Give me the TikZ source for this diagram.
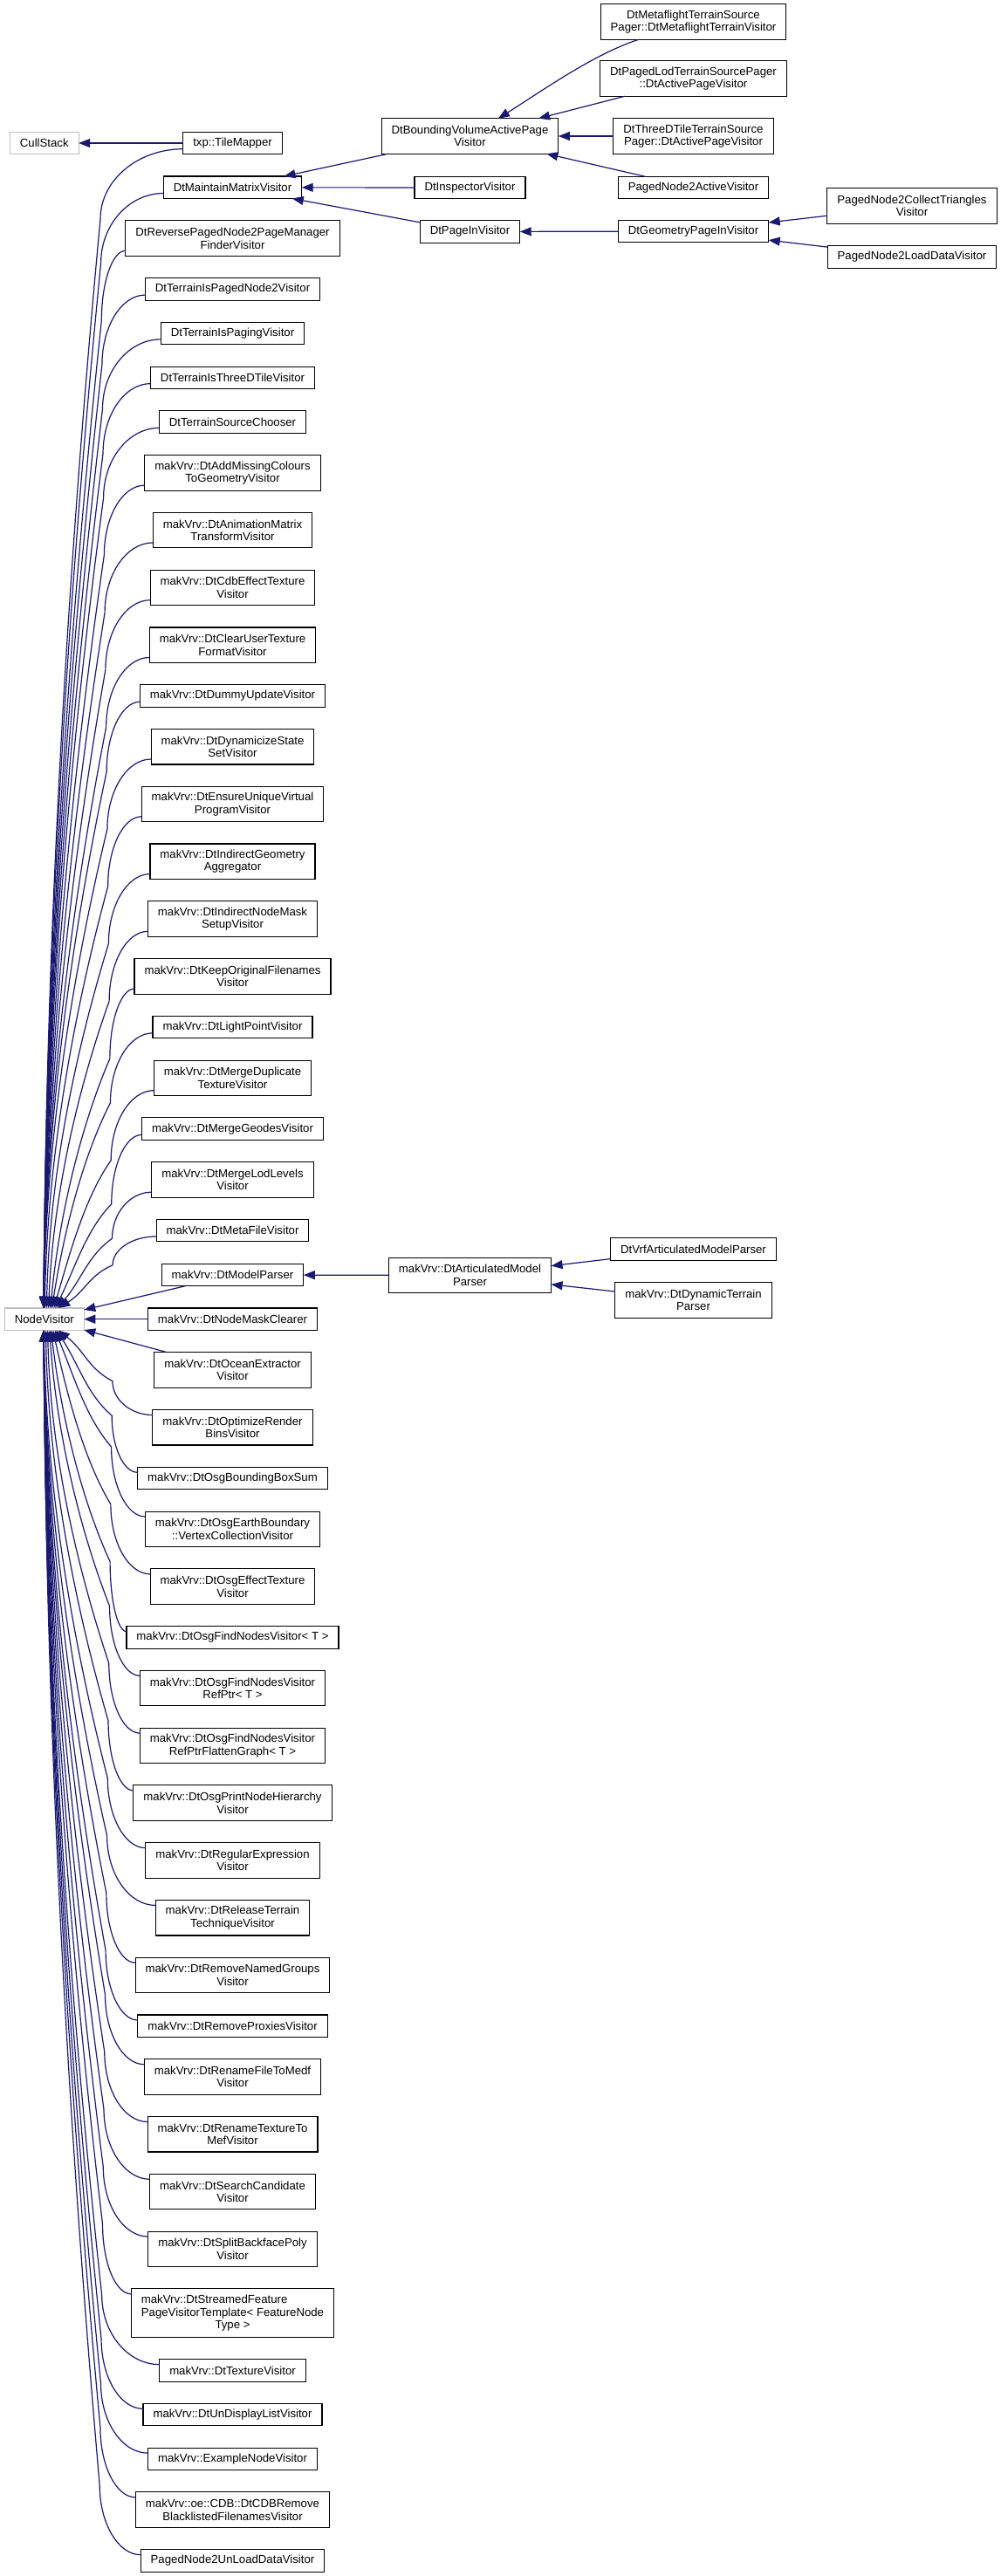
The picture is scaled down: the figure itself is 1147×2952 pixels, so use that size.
\documentclass[tikz,border=0pt]{standalone}
\usepackage{fontspec}
\setmainfont{Liberation Sans}
\usetikzlibrary{positioning,calc,arrows.meta}
\definecolor{edgeblue}{HTML}{191970}
\definecolor{graybd}{HTML}{BFBFBF}
\newsavebox\linebox
\newcommand\nodefont{\fontsize{13.2}{14.5}\selectfont}
\newcommand\fanpath[3]{%
\draw[edge] let \p1=#1, \p2=(#3),
  \n1={#2*(\y1-\y2)},
  \n2={min(80pt,0.4*\n1)},
  \n3={115pt+15pt*(1-\n1/1330pt)},
  \n4={50pt+20pt*max(0,1-\n1/600pt)},
  \n5={\n4+(\n3-\n4)*max(0.05,0.6*(1-\n1/500pt))}
 in (\n4,\y2) .. controls (\n5,{\y2+#2*0.4*(\n1-\n2)}) and ({\n3-0.45*(\n3-\n4)},{\y1-#2*\n2-#2*0.25*(\n1-\n2)}) .. (\n3,{\y1-#2*\n2}) .. controls (\n3,{\y1-#2*0.45*\n2}) and ({\x1-0.55*(\x1-\n3)},\y1) .. (\x1,\y1);}
\newcommand\fanup[1]{\fanpath{($(#1.south west)+(0,6)$)}{1}{nv.north}}
\newcommand\fandown[1]{\fanpath{($(#1.north west)+(0,-6)$)}{(-1)}{nv.south}}
\begin{document}
\begin{tikzpicture}[x=1pt,y=1pt,
  box/.style={draw=black, line width=1.1pt, fill=white, inner xsep=11.5pt, inner ysep=0pt, outer sep=0pt, align=center, font=\nodefont, minimum height=25.5pt},
  box2/.style={box, minimum height=40.5pt},
  box3/.style={box, minimum height=55.5pt},
  gbox/.style={box, draw=graybd},
  edge/.style={draw=edgeblue, line width=1.2pt, arrows={Triangle[length=13pt,width=10pt]-}},
  node distance=25.27pt]
\useasboundingbox (0,0) rectangle (1147,-2952);
% left column
\node[box] (tm) at (266.5,-164) {txp::TileMapper};
\node[box, below=of tm] (mm) {DtMaintainMatrixVisitor};
\node[box2, below=of mm] (rev) {DtReversePagedNode2PageManager\\FinderVisitor};
\node[box, below=of rev] (tpn) {DtTerrainIsPagedNode2Visitor};
\node[box, below=of tpn] (tpg) {DtTerrainIsPagingVisitor};
\node[box, below=of tpg] (t3d) {DtTerrainIsThreeDTileVisitor};
\node[box, below=of t3d] (tsc) {DtTerrainSourceChooser};
\node[box2, below=of tsc] (amc) {makVrv::DtAddMissingColours\\ToGeometryVisitor};
\node[box2, below=of amc] (amt) {makVrv::DtAnimationMatrix\\TransformVisitor};
\node[box2, below=of amt] (cdb) {makVrv::DtCdbEffectTexture\\Visitor};
\node[box2, below=of cdb] (cut) {makVrv::DtClearUserTexture\\FormatVisitor};
\node[box, below=of cut] (duv) {makVrv::DtDummyUpdateVisitor};
\node[box2, below=of duv] (dss) {makVrv::DtDynamicizeState\\SetVisitor};
\node[box2, below=of dss] (euv) {makVrv::DtEnsureUniqueVirtual\\ProgramVisitor};
\node[box2, below=of euv] (iga) {makVrv::DtIndirectGeometry\\Aggregator};
\node[box2, below=of iga] (inm) {makVrv::DtIndirectNodeMask\\SetupVisitor};
\node[box2, below=of inm] (kof) {makVrv::DtKeepOriginalFilenames\\Visitor};
\node[box, below=of kof] (lpv) {makVrv::DtLightPointVisitor};
\node[box2, below=of lpv] (mdt) {makVrv::DtMergeDuplicate\\TextureVisitor};
\node[box, below=of mdt] (mgv) {makVrv::DtMergeGeodesVisitor};
\node[box2, below=of mgv] (mll) {makVrv::DtMergeLodLevels\\Visitor};
\node[box, below=of mll] (mfv) {makVrv::DtMetaFileVisitor};
\node[box, below=of mfv] (mp) {makVrv::DtModelParser};
\node[box, below=of mp] (nmc) {makVrv::DtNodeMaskClearer};
\node[box2, below=of nmc] (oev) {makVrv::DtOceanExtractor\\Visitor};
\node[box2, below=of oev] (orb) {makVrv::DtOptimizeRender\\BinsVisitor};
\node[box, below=of orb] (bbs) {makVrv::DtOsgBoundingBoxSum};
\node[box2, below=of bbs] (oeb) {makVrv::DtOsgEarthBoundary\\::VertexCollectionVisitor};
\node[box2, below=of oeb] (oet) {makVrv::DtOsgEffectTexture\\Visitor};
\node[box, below=of oet] (fn1) {makVrv::DtOsgFindNodesVisitor< T >};
\node[box2, below=of fn1] (fn2) {makVrv::DtOsgFindNodesVisitor\\RefPtr< T >};
\node[box2, below=of fn2] (fn3) {makVrv::DtOsgFindNodesVisitor\\RefPtrFlattenGraph< T >};
\node[box2, below=of fn3] (pnh) {makVrv::DtOsgPrintNodeHierarchy\\Visitor};
\node[box2, below=of pnh] (rex) {makVrv::DtRegularExpression\\Visitor};
\node[box2, below=of rex] (rtt) {makVrv::DtReleaseTerrain\\TechniqueVisitor};
\node[box2, below=of rtt] (rng) {makVrv::DtRemoveNamedGroups\\Visitor};
\node[box, below=of rng] (rpv) {makVrv::DtRemoveProxiesVisitor};
\node[box2, below=of rpv] (rfm) {makVrv::DtRenameFileToMedf\\Visitor};
\node[box2, below=of rfm] (rtm) {makVrv::DtRenameTextureTo\\MefVisitor};
\node[box2, below=of rtm] (scv) {makVrv::DtSearchCandidate\\Visitor};
\node[box2, below=of scv] (sbp) {makVrv::DtSplitBackfacePoly\\Visitor};
\node[box3, below=of sbp] (sfp) {\sbox\linebox{PageVisitorTemplate< FeatureNode}\makebox[\wd\linebox][l]{makVrv::DtStreamedFeature}\\PageVisitorTemplate< FeatureNode\\Type >};
\node[box, below=of sfp] (txv) {makVrv::DtTextureVisitor};
\node[box, below=of txv] (udl) {makVrv::DtUnDisplayListVisitor};
\node[box, below=of udl] (env) {makVrv::ExampleNodeVisitor};
\node[box2, below=of env] (cdr) {makVrv::oe::CDB::DtCDBRemove\\BlacklistedFilenamesVisitor};
\node[box, below=of cdr] (unl) {PagedNode2UnLoadDataVisitor};
% base classes
\node[gbox] (cull) at (50.8,-164) {CullStack};
\node[gbox] (nv) at (nmc.center -| cull.center) {NodeVisitor};
% right side upper
\node[box2] (bv) at (538.5,-156) {DtBoundingVolumeActivePage\\Visitor};
\node[box] (insp) at (538.5,-215) {DtInspectorVisitor};
\node[box] (piv) at (538.5,-265.5) {DtPageInVisitor};
\node[box2] (meta) at (794.5,-25) {DtMetaflightTerrainSource\\Pager::DtMetaflightTerrainVisitor};
\node[box2] (plod) at (794.5,-90) {DtPagedLodTerrainSourcePager\\::DtActivePageVisitor};
\node[box2] (three) at (794.5,-156) {DtThreeDTileTerrainSource\\Pager::DtActivePageVisitor};
\node[box] (pn2a) at (794.5,-215) {PagedNode2ActiveVisitor};
\node[box] (geo) at (794.5,-265) {DtGeometryPageInVisitor};
\node[box2] (coll) at (1045,-236) {PagedNode2CollectTriangles\\Visitor};
\node[box] (load) at (1045,-294.5) {PagedNode2LoadDataVisitor};
% right side middle
\node[box2] (art) at (538.5,-1461.5) {makVrv::DtArticulatedModel\\Parser};
\node[box] (vrf) at (794.5,-1431.5) {DtVrfArticulatedModelParser};
\node[box2] (dyn) at (794.5,-1490) {makVrv::DtDynamicTerrain\\Parser};
% edges
\draw[edge] (cull) -- (tm);
\draw[edge] (mm) -- (bv);
\draw[edge] (mm) -- (insp);
\draw[edge] (mm) -- (piv);
\draw[edge] (bv) .. controls (620,-105) and (680,-62) .. (meta);
\draw[edge] (bv) -- (plod);
\draw[edge] (bv) -- (three);
\draw[edge] (bv) -- (pn2a);
\draw[edge] (piv) -- (geo);
\draw[edge] (geo) -- (coll);
\draw[edge] (geo) -- (load);
\draw[edge] (mp) -- (art);
\draw[edge] (art) -- (vrf);
\draw[edge] (art) -- (dyn);
\draw[edge] (nv) -- (mp);
\draw[edge] (nv) -- (nmc);
\draw[edge] (nv) -- (oev);
\foreach \c in {tm,mm,rev,tpn,tpg,t3d,tsc,amc,amt,cdb,cut,duv,dss,euv,iga,inm,kof,lpv,mdt,mgv,mll,mfv}{\fanup{\c}}
\foreach \c in {orb,bbs,oeb,oet,fn1,fn2,fn3,pnh,rex,rtt,rng,rpv,rfm,rtm,scv,sbp,sfp,txv,udl,env,cdr,unl}{\fandown{\c}}
\end{tikzpicture}
\end{document}
